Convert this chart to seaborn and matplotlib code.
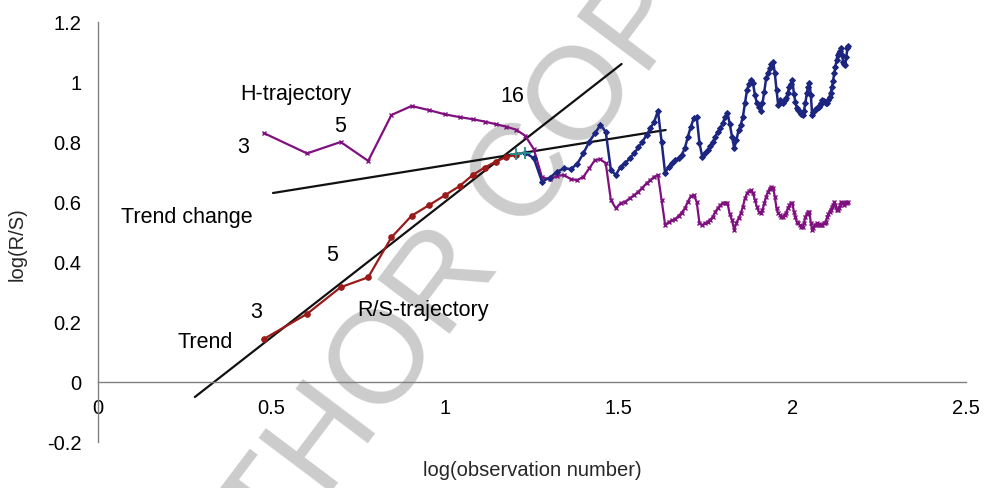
import numpy as np
import pandas as pd
import matplotlib
matplotlib.use("Agg")
import matplotlib.pyplot as plt
import seaborn as sns

sns.set_theme(style="white")
plt.rcParams["font.family"] = ["Liberation Sans", "DejaVu Sans"]

# ---------------- data ----------------
obs_rs = list(range(3, 17))
rs_vals = [0.143, 0.227, 0.316, 0.349, 0.482, 0.554, 0.590, 0.623, 0.653, 0.690,
           0.715, 0.735, 0.750, 0.757]

obs_mark = [16, 17]
mark_vals = [0.759, 0.764]

obs_blue = list(range(17, 146))
blue_vals = [0.764, 0.746, 0.668, 0.681, 0.701, 0.712, 0.710, 0.727, 0.762, 0.801,
             0.829, 0.857, 0.834, 0.707, 0.690, 0.718, 0.729, 0.746, 0.762, 0.782,
             0.801, 0.823, 0.846, 0.868, 0.904, 0.801, 0.696, 0.718, 0.730, 0.740,
             0.746, 0.757, 0.779, 0.818, 0.851, 0.879, 0.884, 0.796, 0.751, 0.762,
             0.773, 0.787, 0.800, 0.818, 0.835, 0.846, 0.862, 0.884, 0.898, 0.860,
             0.818, 0.779, 0.807, 0.840, 0.857, 0.884, 0.929, 0.973, 0.995, 1.007,
             0.996, 0.957, 0.930, 0.918, 0.903, 0.929, 0.968, 1.012, 1.030, 1.046,
             1.060, 1.068, 1.029, 0.973, 0.923, 0.940, 0.935, 0.931, 0.940, 0.946,
             0.965, 0.984, 0.995, 1.007, 0.960, 0.934, 0.912, 0.907, 0.900, 0.895,
             0.890, 0.905, 0.930, 0.962, 0.985, 0.996, 0.957, 0.890, 0.900, 0.907,
             0.910, 0.912, 0.918, 0.923, 0.930, 0.940, 0.936, 0.934, 0.930, 0.929,
             0.940, 0.951, 0.965, 0.984, 1.005, 1.029, 1.050, 1.073, 1.090, 1.096,
             1.105, 1.112, 1.090, 1.068, 1.060, 1.057, 1.084, 1.112, 1.120]

obs_h = list(range(3, 146))
h_vals = [0.830, 0.762, 0.800, 0.737, 0.890, 0.920, 0.906, 0.892, 0.883, 0.876,
          0.868, 0.859, 0.851, 0.841, 0.821, 0.776, 0.682, 0.676, 0.687, 0.690,
          0.676, 0.673, 0.684, 0.712, 0.740, 0.742, 0.729, 0.607, 0.579, 0.596,
          0.601, 0.612, 0.623, 0.634, 0.648, 0.662, 0.673, 0.684, 0.690, 0.607,
          0.523, 0.533, 0.539, 0.544, 0.553, 0.565, 0.579, 0.601, 0.620, 0.623,
          0.601, 0.529, 0.523, 0.529, 0.534, 0.540, 0.551, 0.568, 0.579, 0.590,
          0.596, 0.598, 0.596, 0.560, 0.540, 0.507, 0.531, 0.546, 0.562, 0.584,
          0.612, 0.629, 0.636, 0.640, 0.629, 0.607, 0.584, 0.568, 0.562, 0.573,
          0.596, 0.618, 0.634, 0.645, 0.651, 0.648, 0.618, 0.579, 0.562, 0.557,
          0.551, 0.551, 0.557, 0.565, 0.579, 0.590, 0.596, 0.596, 0.568, 0.550,
          0.534, 0.529, 0.522, 0.518, 0.518, 0.530, 0.551, 0.560, 0.568, 0.566,
          0.530, 0.507, 0.515, 0.523, 0.525, 0.529, 0.527, 0.525, 0.523, 0.525,
          0.529, 0.529, 0.535, 0.551, 0.560, 0.568, 0.575, 0.584, 0.590, 0.601,
          0.590, 0.573, 0.575, 0.579, 0.590, 0.601, 0.598, 0.596, 0.590, 0.596,
          0.601, 0.596, 0.600]

trend_x = [0.279, 1.508]
trend_y = [-0.05, 1.06]
change_x = [0.504, 1.635]
change_y = [0.63, 0.84]

x_ticks = [0, 0.5, 1, 1.5, 2, 2.5]
x_labels = ["0", "0.5", "1", "1.5", "2", "2.5"]
y_ticks = [-0.2, 0, 0.2, 0.4, 0.6, 0.8, 1.0, 1.2]
y_labels = ["-0.2", "0", "0.2", "0.4", "0.6", "0.8", "1", "1.2"]

notes = ["H-trajectory", "16", "5", "3", "Trend change", "5", "3", "R/S-trajectory", "Trend"]
note_x = [0.409, 1.194, 0.696, 0.417, 0.066, 0.673, 0.455, 0.748, 0.23]
note_y = [0.957, 0.953, 0.850, 0.783, 0.550, 0.423, 0.233, 0.237, 0.130]
note_ha = ["left", "center", "center", "center", "left", "center", "center", "left", "left"]

# ---------------- figure ----------------
fig = plt.figure(figsize=(9.84, 4.88), dpi=100)
ax = fig.add_axes([98 / 984, 1 - 442 / 488, 868 / 984, 420 / 488])
ax.patch.set_alpha(0)

# watermark
fig.text(0.437, 0.377, "AUTHOR COPY", rotation=53, fontsize=95, color="#cccccc",
         ha="center", va="center", zorder=-5, family="Liberation Sans")

df_h = pd.DataFrame({"x": np.log10(obs_h), "y": h_vals})
df_rs = pd.DataFrame({"x": np.log10(obs_rs), "y": rs_vals})
df_b = pd.DataFrame({"x": np.log10(obs_blue), "y": blue_vals})
df_m = pd.DataFrame({"x": np.log10(obs_mark), "y": mark_vals})

sns.lineplot(data=df_h, x="x", y="y", ax=ax, sort=False, estimator=None,
             color="#801080", linewidth=1.6, marker="x", markersize=3.5,
             markeredgewidth=1.0, markeredgecolor="#801080", zorder=3)
sns.lineplot(data=df_b, x="x", y="y", ax=ax, sort=False, estimator=None,
             color="#1c2580", linewidth=1.8, marker="D", markersize=3,
             markeredgecolor="#1c2580", zorder=4)
sns.lineplot(data=df_rs, x="x", y="y", ax=ax, sort=False, estimator=None,
             color="#9a1a1a", linewidth=1.6, marker="o", markersize=4,
             markeredgecolor="#9a1a1a", zorder=4)
sns.lineplot(data=df_m, x="x", y="y", ax=ax, sort=False, estimator=None,
             color="#2a9090", linewidth=0, marker="+", markersize=8,
             markeredgewidth=1.3, markeredgecolor="#2a9090", zorder=5)

sns.lineplot(x=trend_x, y=trend_y, ax=ax, color="#111111", linewidth=1.6, zorder=2)
sns.lineplot(x=change_x, y=change_y, ax=ax, color="#111111", linewidth=1.6, zorder=2)

for t, xx, yy, ha in zip(notes, note_x, note_y, note_ha):
    ax.text(xx, yy, t, ha=ha, va="center", fontsize=15.5, color="black", zorder=6)

ax.set_xlim(0, 2.5)
ax.set_ylim(-0.2, 1.2)
ax.set_xticks(x_ticks)
ax.set_xticklabels(x_labels)
ax.set_yticks(y_ticks)
ax.set_yticklabels(y_labels)

for s in ["top", "right"]:
    ax.spines[s].set_visible(False)
ax.spines["bottom"].set_position(("data", 0))
ax.spines["left"].set_position(("data", 0))
for s in ["bottom", "left"]:
    ax.spines[s].set_color("#808080")
    ax.spines[s].set_linewidth(1.0)

ax.tick_params(axis="both", which="major", direction="out", length=5,
               width=1, color="#808080", labelsize=14.5, labelcolor="black")
ax.tick_params(axis="x", pad=7)
ax.tick_params(axis="y", pad=7)
ax.grid(False)

ax.set_xlabel("log(observation number)", fontsize=14.5)
ax.set_ylabel("log(R/S)", fontsize=14.5)
ax.xaxis.set_label_coords(0.5, -0.045)
ax.yaxis.set_label_coords(-0.082, 0.47)

fig.savefig("out.png", dpi=100)
